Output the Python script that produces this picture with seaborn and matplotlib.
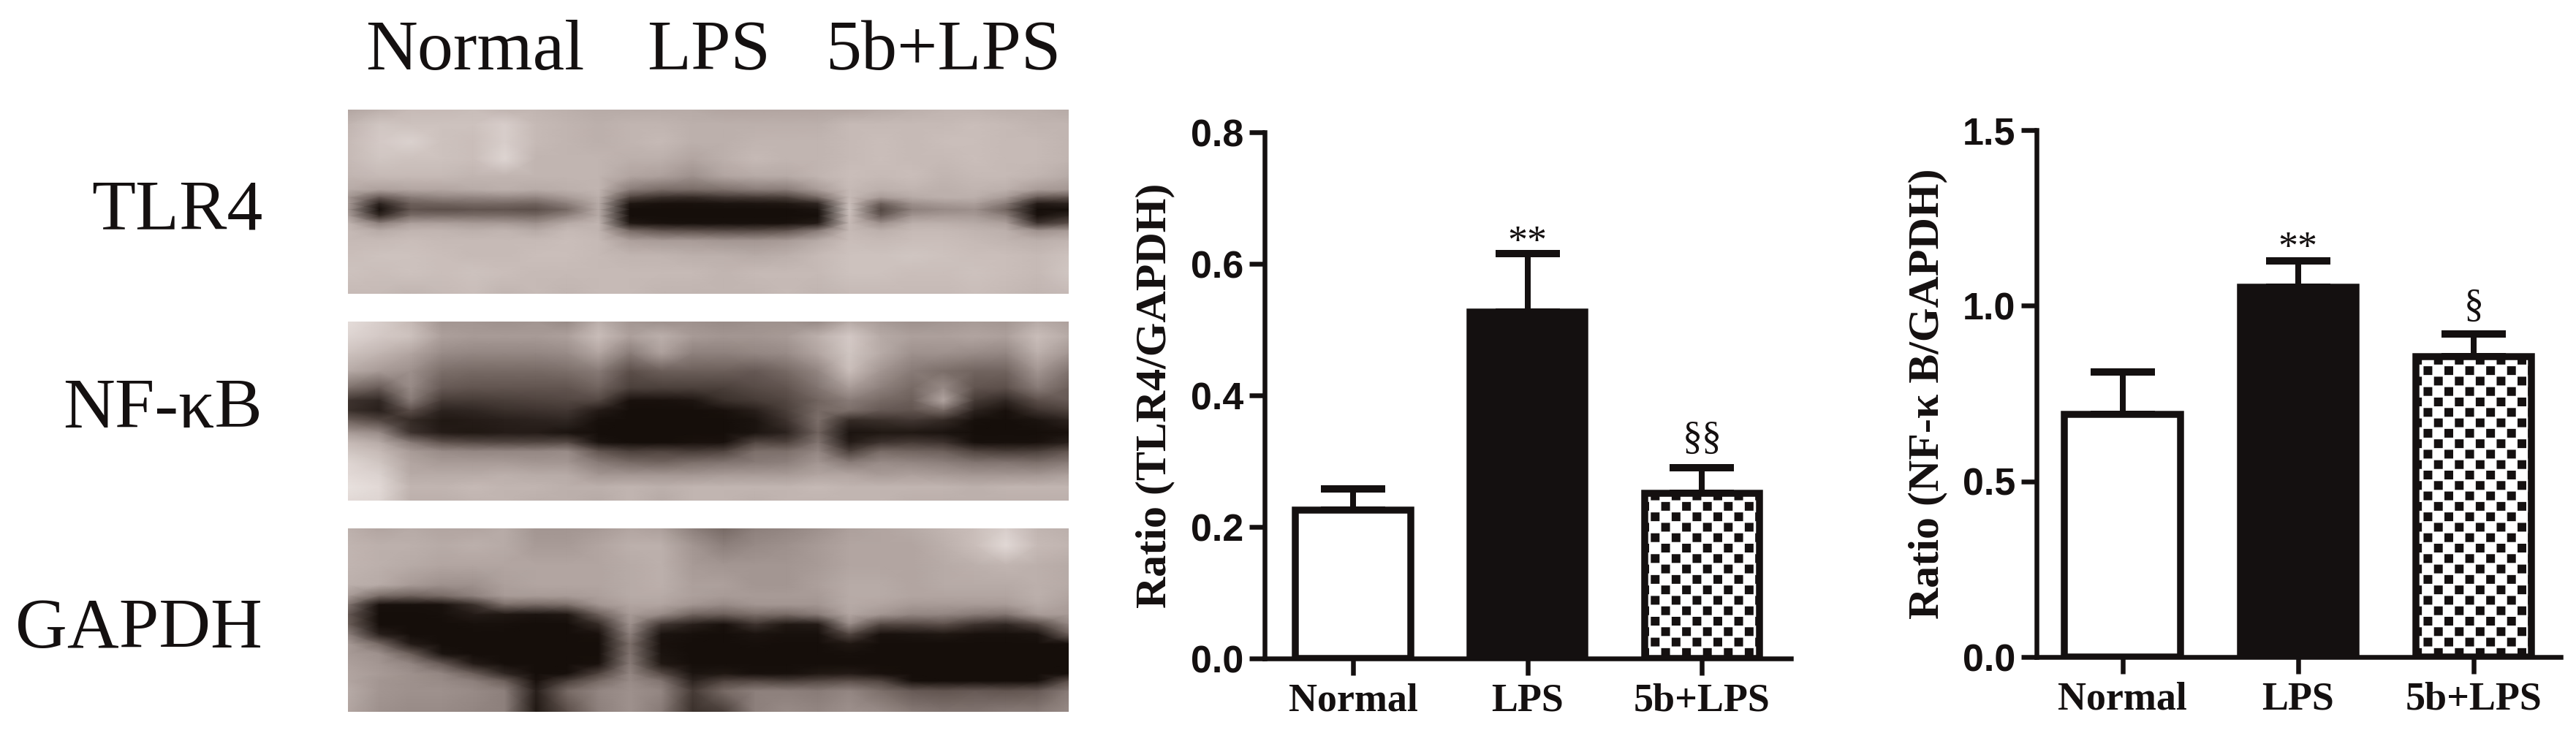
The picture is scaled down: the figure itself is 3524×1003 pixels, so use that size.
import numpy as np
import pandas as pd
import seaborn as sn
import matplotlib
matplotlib.use('Agg')
import matplotlib.pyplot as plt
import matplotlib.hatch as mhatch
from matplotlib.colors import LinearSegmentedColormap
from matplotlib.path import Path

groups = ['Normal', 'LPS', '5b+LPS']
tlr4_mean = [0.225, 0.527, 0.251]
tlr4_err = [0.033, 0.088, 0.039]
nfkb_mean = [0.69, 1.053, 0.856]
nfkb_err = [0.122, 0.074, 0.064]
tlr4_ticks = [0.0, 0.2, 0.4, 0.6, 0.8]
nfkb_ticks = [0.0, 0.5, 1.0, 1.5]
tlr4_marks = ['', '**', '§§']
nfkb_marks = ['', '**', '§']

# blot grey levels, 0 = band black, 100 = paper
# rows are not evenly spaced, more of them around the bands
rows_tlr4 = [20, 80, 150, 220, 290, 345, 375, 400, 425, 450, 480, 510, 550, 610, 680, 765]
blot_tlr4 = [
    [66, 70, 74, 74, 75, 72, 72, 70, 68, 68, 68, 68, 66, 66, 66, 66, 66, 68, 70, 72, 72, 70, 70, 68],
    [72, 80, 78, 78, 78, 84, 74, 72, 70, 72, 72, 70, 70, 70, 70, 70, 74, 74, 74, 74, 76, 74, 72, 72],
    [74, 82, 86, 78, 76, 84, 74, 72, 70, 72, 74, 70, 70, 72, 72, 72, 74, 76, 74, 76, 76, 74, 74, 72],
    [74, 80, 78, 78, 76, 88, 72, 72, 72, 70, 70, 66, 70, 74, 72, 72, 74, 76, 74, 74, 76, 74, 74, 72],
    [72, 74, 74, 74, 72, 72, 72, 72, 72, 66, 64, 58, 66, 68, 68, 72, 76, 74, 76, 72, 74, 74, 72, 68],
    [68, 64, 66, 66, 68, 70, 68, 70, 72, 50, 44, 44, 46, 50, 50, 62, 74, 70, 72, 70, 72, 70, 62, 60],
    [60, 38, 50, 54, 54, 56, 54, 62, 70, 28, 18, 16, 22, 24, 26, 44, 74, 62, 68, 70, 70, 62, 38, 36],
    [62, 12, 40, 42, 44, 44, 42, 52, 68, 6, 3, 3, 4, 5, 6, 14, 76, 40, 58, 62, 64, 50, 8, 12],
    [60, 2, 36, 34, 36, 36, 34, 44, 68, 1, 1, 1, 1, 1, 1, 4, 78, 30, 52, 56, 58, 42, 1, 2],
    [64, 16, 46, 46, 46, 46, 44, 54, 68, 1, 1, 1, 1, 1, 1, 2, 76, 38, 60, 62, 62, 52, 3, 14],
    [72, 52, 64, 64, 62, 62, 58, 68, 72, 6, 3, 2, 2, 2, 3, 8, 74, 58, 70, 70, 68, 64, 20, 34],
    [74, 68, 72, 72, 70, 72, 68, 74, 72, 44, 36, 34, 32, 32, 36, 50, 74, 70, 74, 74, 72, 70, 58, 62],
    [74, 74, 76, 74, 74, 74, 74, 76, 74, 64, 62, 62, 60, 60, 62, 68, 76, 74, 76, 76, 74, 72, 70, 72],
    [76, 78, 78, 76, 74, 74, 76, 76, 74, 72, 72, 70, 70, 68, 70, 74, 78, 78, 80, 78, 76, 76, 74, 78],
    [78, 76, 78, 76, 78, 76, 74, 74, 74, 74, 74, 74, 72, 74, 74, 74, 78, 78, 76, 76, 78, 76, 74, 80],
    [74, 74, 72, 74, 76, 72, 74, 72, 74, 74, 72, 72, 72, 72, 74, 72, 74, 74, 74, 74, 76, 74, 72, 74],
]
rows_nfkb = [20, 80, 150, 220, 290, 340, 380, 420, 470, 510, 545, 590, 640, 690, 745]
blot_nfkb = [
    [92, 84, 74, 60, 60, 58, 60, 56, 70, 60, 58, 58, 56, 58, 58, 56, 68, 62, 58, 60, 62, 60, 68, 64],
    [88, 82, 78, 64, 62, 62, 62, 64, 76, 64, 70, 62, 60, 60, 62, 70, 82, 68, 64, 64, 66, 64, 76, 68],
    [78, 72, 66, 56, 54, 54, 54, 56, 66, 50, 64, 52, 52, 54, 56, 66, 80, 68, 58, 58, 56, 54, 70, 60],
    [68, 62, 58, 46, 44, 44, 44, 46, 50, 34, 40, 40, 40, 38, 44, 54, 76, 60, 50, 46, 42, 42, 60, 48],
    [46, 38, 56, 38, 36, 36, 36, 36, 42, 26, 26, 26, 26, 32, 36, 48, 62, 52, 44, 56, 36, 34, 50, 40],
    [20, 14, 50, 24, 24, 26, 28, 30, 30, 3, 3, 5, 18, 24, 30, 42, 50, 44, 40, 66, 24, 14, 34, 38],
    [18, 10, 34, 12, 14, 18, 20, 22, 8, 1, 1, 1, 3, 10, 26, 44, 46, 38, 36, 44, 12, 3, 20, 28],
    [40, 30, 16, 6, 8, 10, 12, 14, 2, 1, 1, 1, 1, 4, 20, 46, 16, 18, 22, 16, 2, 1, 4, 12],
    [62, 56, 20, 8, 6, 8, 8, 4, 1, 1, 1, 1, 1, 4, 12, 42, 4, 6, 6, 4, 1, 1, 1, 3],
    [74, 68, 50, 36, 32, 30, 30, 32, 4, 1, 1, 3, 3, 30, 28, 48, 8, 20, 24, 20, 2, 2, 3, 10],
    [80, 74, 62, 56, 54, 54, 54, 56, 36, 26, 28, 24, 28, 46, 46, 54, 26, 44, 42, 40, 28, 24, 26, 36],
    [88, 80, 66, 62, 62, 62, 60, 60, 50, 44, 42, 46, 48, 50, 52, 60, 50, 56, 54, 52, 48, 48, 46, 50],
    [90, 86, 68, 68, 68, 70, 68, 68, 60, 60, 60, 60, 62, 62, 62, 66, 66, 62, 64, 62, 60, 60, 60, 64],
    [94, 90, 72, 72, 74, 72, 72, 70, 70, 72, 70, 72, 72, 72, 72, 74, 72, 72, 72, 72, 70, 72, 72, 72],
    [90, 88, 70, 70, 72, 72, 70, 70, 68, 72, 68, 72, 72, 70, 72, 72, 72, 72, 70, 70, 70, 70, 70, 70],
]
rows_gapdh = [20, 90, 170, 250, 295, 330, 370, 410, 450, 490, 530, 570, 610, 640, 680, 765]
blot_gapdh = [
    [70, 66, 68, 66, 66, 68, 60, 60, 62, 66, 64, 52, 44, 52, 54, 58, 64, 66, 68, 72, 76, 84, 72, 70],
    [72, 70, 70, 68, 70, 68, 62, 62, 66, 70, 70, 60, 52, 56, 58, 62, 66, 66, 66, 70, 76, 90, 74, 72],
    [72, 70, 68, 66, 66, 66, 66, 66, 66, 68, 70, 62, 60, 60, 60, 62, 66, 66, 66, 68, 70, 72, 70, 68],
    [70, 68, 62, 58, 58, 64, 66, 66, 66, 68, 70, 64, 64, 60, 60, 64, 68, 68, 66, 68, 68, 68, 70, 68],
    [62, 44, 40, 44, 52, 62, 62, 62, 64, 68, 68, 64, 62, 62, 62, 62, 68, 68, 66, 66, 66, 66, 70, 66],
    [48, 3, 2, 3, 18, 46, 44, 46, 60, 66, 66, 60, 56, 60, 60, 60, 68, 66, 62, 62, 62, 62, 68, 64],
    [38, 1, 1, 2, 8, 6, 4, 6, 40, 62, 56, 42, 40, 46, 44, 50, 66, 60, 54, 54, 50, 48, 62, 62],
    [40, 1, 1, 1, 2, 2, 1, 1, 16, 58, 22, 10, 3, 20, 6, 8, 56, 30, 30, 34, 20, 14, 30, 54],
    [52, 10, 1, 1, 1, 1, 1, 1, 3, 52, 4, 2, 1, 4, 2, 2, 30, 3, 4, 6, 3, 2, 4, 40],
    [62, 44, 8, 1, 1, 1, 1, 1, 1, 46, 3, 1, 1, 2, 1, 1, 6, 1, 1, 1, 1, 1, 1, 2],
    [62, 58, 40, 4, 1, 1, 1, 1, 1, 48, 4, 1, 1, 1, 1, 1, 2, 1, 1, 1, 1, 1, 1, 1],
    [64, 60, 54, 38, 8, 1, 1, 1, 3, 50, 6, 1, 1, 1, 1, 1, 1, 1, 1, 1, 1, 1, 1, 1],
    [66, 62, 58, 54, 40, 14, 1, 2, 28, 54, 32, 4, 6, 2, 2, 6, 8, 3, 1, 1, 1, 1, 1, 2],
    [66, 60, 58, 56, 52, 40, 3, 26, 44, 56, 48, 12, 28, 30, 26, 30, 34, 28, 2, 1, 1, 1, 2, 34],
    [68, 60, 58, 58, 56, 52, 10, 44, 54, 58, 54, 24, 44, 52, 52, 50, 54, 46, 38, 36, 38, 36, 38, 50],
    [66, 58, 56, 56, 54, 52, 6, 34, 52, 58, 50, 18, 26, 52, 56, 54, 58, 56, 50, 48, 48, 50, 50, 56],
]

W, H = 3524, 1003
DPI = 200
PT = 72 / DPI
INK = '#141010'
SERIF = 'Liberation Serif'
SANS = 'Liberation Sans'


class CheckerHatch(mhatch.HatchPatternBase):
    # black squares on a 14 x 14 board per hatch tile
    filled = True

    def __init__(self, hatch, density):
        self.num_cells = 14 if 'k' in hatch else 0
        self.num_vertices = 5 * self.num_cells * self.num_cells // 2

    def set_vertices_and_codes(self, vertices, codes):
        n = self.num_cells
        side = 0.84 / n
        pos = 0
        for i in range(n):
            for j in range(n):
                if (i + j) % 2:
                    continue
                x0 = (i + 0.08) / n
                y0 = (j + 0.08) / n
                vertices[pos:pos + 5] = [[x0, y0], [x0, y0 + side], [x0 + side, y0 + side],
                                         [x0 + side, y0], [x0, y0]]
                codes[pos] = Path.MOVETO
                codes[pos + 1:pos + 4] = Path.LINETO
                codes[pos + 4] = Path.CLOSEPOLY
                pos += 5


mhatch._hatch_types.append(CheckerHatch)

sn.set_theme(style='white')
plt.rcParams['hatch.linewidth'] = 0.0
plt.rcParams['text.color'] = INK

fig = plt.figure(figsize=((W + 0.01) / DPI, (H + 0.01) / DPI), dpi=DPI, facecolor='white')


def px_axes(left, top, right, bottom):
    return fig.add_axes([left / W, 1 - bottom / H, (right - left) / W, (bottom - top) / H])


def px_text(x, y, s, size, **kw):
    fig.text(x / W, 1 - y / H, s, fontsize=size * PT, family=SERIF, color=INK, **kw)


blot_cmap = LinearSegmentedColormap.from_list(
    'blot', [(0, '#130c08'), (0.35, '#5e514c'), (0.6, '#a39692'), (0.75, '#c8bcb8'), (1, '#f2ecea')])


def draw_blot(grid, rows, top, bottom):
    ax = px_axes(476, top, 1462, bottom)
    grid = np.array(grid)
    xx, yy = np.meshgrid(np.arange(grid.shape[1]), rows)
    ax.pcolormesh(xx, yy, grid, cmap=blot_cmap, vmin=0, vmax=100, shading='gouraud', rasterized=True)
    ax.set_xlim(0, grid.shape[1] - 1)
    ax.set_ylim(rows[-1], rows[0])
    ax.axis('off')


draw_blot(blot_tlr4, rows_tlr4, 150, 402)
draw_blot(blot_nfkb, rows_nfkb, 440, 685)
draw_blot(blot_gapdh, rows_gapdh, 723, 974)

for x, name in zip([650, 970, 1290], groups):
    px_text(x, 95, name, 98, ha='center', va='baseline')
for y, name in zip([313, 585, 886], ['TLR4', 'NF-κB', 'GAPDH']):
    px_text(359, y, name, 98, ha='right', va='baseline')


def draw_bars(box, xlim, means, errs, ticks, marks, mark_y, ylabel, label_x):
    ax = px_axes(*box)
    df = pd.DataFrame({'group': groups, 'value': means})
    sn.barplot(data=df, x='group', y='value', hue='group', order=groups, hue_order=groups,
               palette=['white', INK, 'white'], saturation=1, width=0.66, errorbar=None,
               edgecolor=INK, linewidth=9.5 * PT, legend=False, ax=ax)
    for bar in ax.patches:
        bar.set_zorder(3)
    ax.patches[2].set_hatch('k')
    ax.errorbar(range(3), means, yerr=[[0, 0, 0], errs], fmt='none', ecolor=INK,
                elinewidth=8 * PT, capsize=44 * PT, capthick=10 * PT, zorder=2)
    ax.set_xlim(*xlim)
    ax.set_ylim(ticks[0], ticks[-1])
    ax.set_yticks(ticks)
    ax.set_yticklabels(['%.1f' % t for t in ticks], fontsize=52 * PT, family=SANS, fontweight='bold', color=INK)
    ax.set_xticks(range(3))
    ax.set_xticklabels(groups, fontsize=54 * PT, family=SERIF, fontweight='bold', color=INK)
    ax.set_xlabel('')
    ax.set_ylabel(ylabel, fontsize=60 * PT, family=SERIF, fontweight='bold', color=INK, va='center')
    ax.yaxis.set_label_coords(label_x, 0.5)
    ax.tick_params(axis='y', direction='out', length=21 * PT, width=6.5 * PT, color=INK, pad=8 * PT, left=True)
    ax.tick_params(axis='x', direction='out', length=23 * PT, width=6.5 * PT, color=INK, pad=10 * PT, bottom=True)
    for side in ['top', 'right']:
        ax.spines[side].set_visible(False)
    for side in ['left', 'bottom']:
        ax.spines[side].set_linewidth(6.5 * PT)
        ax.spines[side].set_color(INK)
        ax.spines[side].set_zorder(4)
    for i, mark in enumerate(marks):
        if mark:
            ax.text(i, mark_y[i], mark, ha='center', va='baseline', family=SERIF, fontsize=54 * PT, color=INK)
    return ax


draw_bars((1730, 181, 2450, 901), (-0.507, 2.51), tlr4_mean, tlr4_err, tlr4_ticks, tlr4_marks,
          [0, 0.617, 0.319], 'Ratio (TLR4/GAPDH)', -150 / 720)
draw_bars((2786, 178, 3503, 899), (-0.49, 2.496), nfkb_mean, nfkb_err, nfkb_ticks, nfkb_marks,
          [0, 1.134, 0.97], 'Ratio (NF-κ B/GAPDH)', -149 / 717)

fig.savefig('out.png', dpi=DPI, facecolor='white')
